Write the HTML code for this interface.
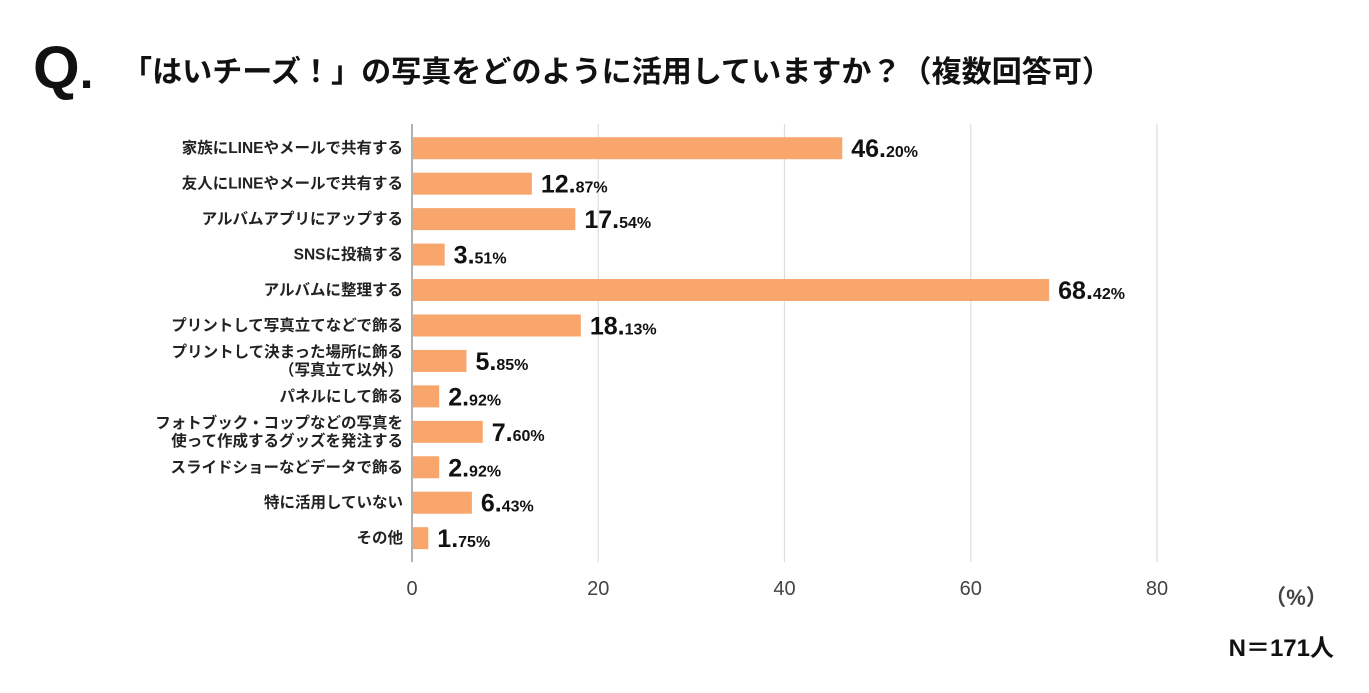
<!DOCTYPE html>
<html><head><meta charset="utf-8">
<style>
body{margin:0;background:#fff;width:1369px;height:688px;overflow:hidden;font-family:"Liberation Sans","Noto Sans CJK JP",sans-serif;}
</style></head><body>
<svg id="chart" width="1369" height="688" xmlns="http://www.w3.org/2000/svg" font-family="'Liberation Sans','Noto Sans CJK JP',sans-serif">
<text x="33" y="88" font-size="60" font-weight="bold" fill="#111">Q<tspan font-size="50">.</tspan></text>
<text x="122" y="82" font-size="30" font-weight="bold" fill="#111" textLength="990" lengthAdjust="spacingAndGlyphs">「はいチーズ！」の写真をどのように活用していますか？（複数回答可）</text>
<g id="grid"></g>
<g id="bars"></g>
<text x="1296" y="605" font-size="22" font-weight="bold" fill="#444" text-anchor="middle">（%）</text>
<text x="1334" y="656" font-size="24" font-weight="bold" fill="#111" text-anchor="end">N＝171人</text>
</svg>
<script>
const categories=[["家族にLINEやメールで共有する"],["友人にLINEやメールで共有する"],["アルバムアプリにアップする"],["SNSに投稿する"],["アルバムに整理する"],["プリントして写真立てなどで飾る"],["プリントして決まった場所に飾る","（写真立て以外）"],["パネルにして飾る"],["フォトブック・コップなどの写真を","使って作成するグッズを発注する"],["スライドショーなどデータで飾る"],["特に活用していない"],["その他"]];
const values=[46.20,12.87,17.54,3.51,68.42,18.13,5.85,2.92,7.60,2.92,6.43,1.75];
const ticks=[0,20,40,60,80];
const NS="http://www.w3.org/2000/svg";
const x0=412,pxPer=(1157-412)/80,top0=130.5,rowH=35.45,barH=22;
const xs=v=>x0+v*pxPer;
const yc=i=>top0+rowH*(i+0.5);
function mk(t,a,p){const e=document.createElementNS(NS,t);for(const k in a)e.setAttribute(k,a[k]);p.appendChild(e);return e;}
const g=document.getElementById('grid'),b=document.getElementById('bars');
ticks.forEach((t,i)=>{
 const l=mk('line',{x1:xs(t),x2:xs(t),y1:124,y2:562,stroke:t===0?'#999':'#ddd','stroke-width':t===0?1.5:1.2},g);
 
 
 const tx=mk('text',{x:xs(t),y:595,'font-size':20,fill:'#444','text-anchor':'middle'},g);
 tx.textContent=t;
 
 
});
values.forEach((v,i)=>{
 const y=yc(i);
 const r=mk('rect',{x:x0+1,y:y-barH/2,width:xs(v)-x0-1,height:barH,fill:'#F9A66C'},b);
 
 
 const lines=categories[i];
 lines.forEach((s,j)=>{
  const t=mk('text',{x:403,y:y+5+(lines.length>1?(j===0?-9:9):0),'font-size':15.5,'font-weight':'bold',fill:'#222','text-anchor':'end'},b);
  t.textContent=s;
  
  
 });
 const parts=v.toFixed(2).split('.');
 const vt=mk('text',{x:xs(v)+9,y:y+9,'font-size':25,'font-weight':'bold',fill:'#111'},b);
 
 
 const a=mk('tspan',{},vt);a.textContent=parts[0]+'.';
 const c=mk('tspan',{'font-size':16},vt);c.textContent=parts[1]+'%';
});
</script>
</body></html>
